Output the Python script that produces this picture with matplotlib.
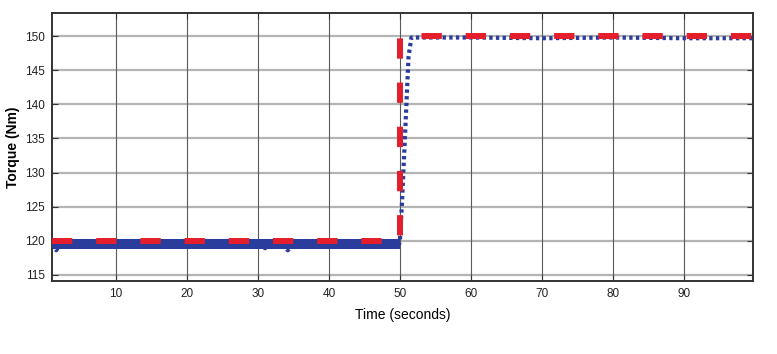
import numpy as np
import matplotlib.pyplot as plt

plt.rcParams['font.family'] = ['Liberation Sans', 'DejaVu Sans']

# reference torque (red dashed)
t_ref = [1, 50, 50, 100]
torque_ref = [120, 120, 150, 150]

# measured torque (blue dotted)
t_meas = [1, 1.6, 2.0, 2.4, 10, 20, 30.5, 31.0, 31.5, 33.5, 34.2, 35, 45, 49.9, 50.0,
          50.3, 50.6, 50.9, 51.2, 51.6, 60, 70, 80, 90, 100]
torque_meas = [119.5, 118.6, 119.3, 119.5, 119.5, 119.5, 119.5, 118.9, 119.5, 119.4, 118.6,
               119.5, 119.5, 119.6, 120.3, 126, 133, 140, 147, 149.8, 149.8, 149.7, 149.8,
               149.7, 149.7]

# ripple envelope of the measurement before the step
t_band = [1, 50]
band_lo = [118.8, 118.8]
band_hi = [120.2, 120.2]

x_ticks = [10, 20, 30, 40, 50, 60, 70, 80, 90]
y_ticks = [115, 120, 125, 130, 135, 140, 145, 150]

blue = "#2a3c9c"
red = "#e41f2b"

fig = plt.figure(figsize=(7.77, 3.54), dpi=100)
ax = fig.add_axes([52 / 777, 1 - 281 / 354, 701 / 777, 268 / 354])

ax.fill_between(t_band, band_lo, band_hi, color=blue, lw=0, zorder=2)
ax.plot(t_meas, torque_meas, color=blue, lw=3.0, linestyle=(0, (0.8, 0.8)), zorder=3)
ax.plot(t_ref, torque_ref, color=red, lw=4.3, linestyle=(0, (3.4, 4.0)), zorder=4)

ax.set_xlim(1, 99.7)
ax.set_ylim(114.1, 153.4)
ax.set_xticks(x_ticks)
ax.set_yticks(y_ticks)

for y in y_ticks:
    ax.axhline(y, color="#b4b4b4", lw=1.6, zorder=1)
for x in x_ticks:
    ax.axvline(x, color="#5a5a5a", lw=0.8, zorder=1)

ax.tick_params(direction="in", length=4, width=0.8, colors="#333333",
               labelsize=8.5, right=True, top=True, pad=5)
for lab in ax.get_xticklabels() + ax.get_yticklabels():
    lab.set_color("#222222")
for s in ax.spines.values():
    s.set_color("#333333")
    s.set_linewidth(1.4)

ax.set_xlabel("Time (seconds)", fontsize=10, labelpad=6)
ax.set_ylabel("Torque (Nm)", fontsize=10, fontweight="bold", labelpad=4)

fig.savefig("out.png", dpi=100)
